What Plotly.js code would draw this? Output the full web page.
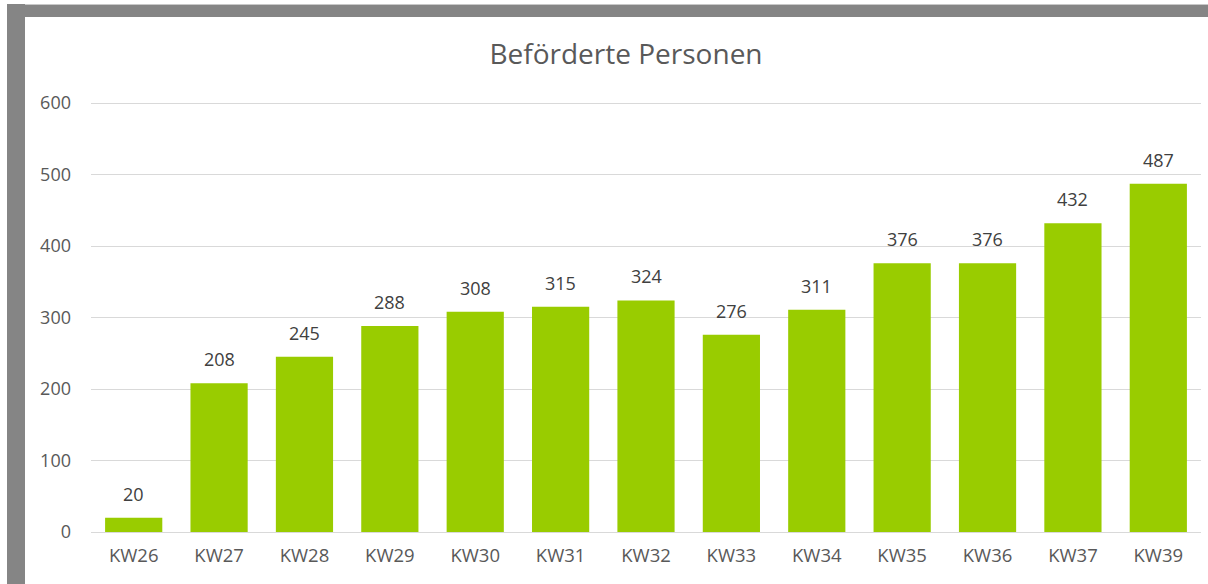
<!DOCTYPE html>
<html>
<head>
<meta charset="utf-8">
<script src="https://cdn.plot.ly/plotly-3.0.1.min.js"></script>
<style>
html,body{margin:0;padding:0;background:#fff;}
#wrap{position:relative;width:1208px;height:584px;overflow:hidden;}
#chart{position:absolute;left:0;top:0;width:1208px;height:584px;}
.bt{position:absolute;left:7px;top:4px;width:1201px;height:12px;background:#858585;border-top:1px solid #c8c8c8;z-index:5;}
.bl{position:absolute;left:7px;top:4px;width:18px;height:580px;background:#858585;z-index:5;}
</style>
</head>
<body>
<div id="wrap">
<div id="chart"></div>
<div class="bt"></div>
<div class="bl"></div>
</div>
<script>
const categories = ["KW26","KW27","KW28","KW29","KW30","KW31","KW32","KW33","KW34","KW35","KW36","KW37","KW39"];
const values = [20,208,245,288,308,315,324,276,311,376,376,432,487];
const yTicks = [0,100,200,300,400,500,600];

const annotations = categories.map((c,i)=>({
  x: c, y: values[i], xref:'x', yref:'y',
  text: String(values[i]), showarrow:false,
  yanchor:'bottom', yshift:10,
  font:{family:'Open Sans, sans-serif', size:18, color:'#404040'}
}));

const data = [{
  type:'bar', x:categories, y:values,
  marker:{color:'#99CC00'},
  width:0.67, hoverinfo:'none'
}];

const layout = {
  width:1208, height:584,
  paper_bgcolor:'#ffffff', plot_bgcolor:'#ffffff',
  margin:{l:91, r:7, t:102, b:52},
  title:{text:'Beförderte Personen', x:626/1208, xref:'container', xanchor:'center',
    y:1-54/584, yref:'container', yanchor:'middle',
    font:{family:'Open Sans, sans-serif', size:28, color:'#595959'}},
  showlegend:false,
  xaxis:{type:'category', showgrid:false, showline:false, zeroline:false,
    tickfont:{family:'Open Sans, sans-serif', size:18.5, color:'#595959'},
    ticks:'', ticklabelstandoff:10},
  yaxis:{range:[0,601.5], tickvals:yTicks, ticktext:yTicks.map(String),
    showgrid:true, gridcolor:'#d9d9d9', gridwidth:1,
    zeroline:true, zerolinecolor:'#d9d9d9', zerolinewidth:1,
    showline:false, ticks:'', ticklabelstandoff:19,
    tickfont:{family:'Open Sans, sans-serif', size:18, color:'#595959'}},
  annotations: annotations
};

Plotly.newPlot('chart', data, layout, {displayModeBar:false, staticPlot:true});
</script>
</body>
</html>
